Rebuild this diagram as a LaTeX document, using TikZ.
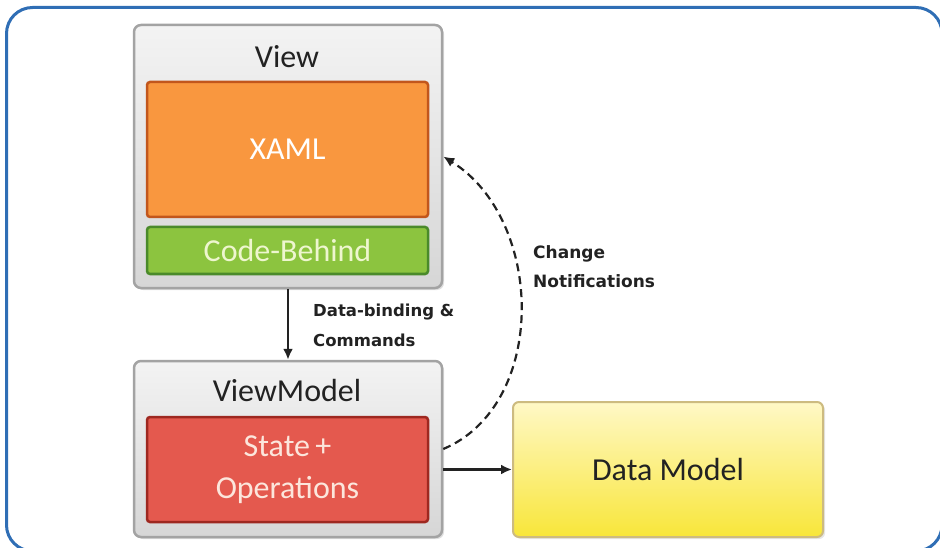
\documentclass[tikz,border=0pt]{standalone}
\usepackage{fontspec}
\setmainfont{Carlito}
\newfontfamily\lblfont{DejaVu Sans}
\usetikzlibrary{arrows.meta,shadows}
\definecolor{frameblue}{HTML}{2F6EB5}
\definecolor{grayborder}{HTML}{A3A3A3}
\definecolor{graytop}{HTML}{F3F3F3}
\definecolor{graybot}{HTML}{D6D6D6}
\definecolor{orangefill}{HTML}{F9973F}
\definecolor{orangeborder}{HTML}{C2561C}
\definecolor{greenfill}{HTML}{8CC43F}
\definecolor{greenborder}{HTML}{4A8A2A}
\definecolor{greentext}{HTML}{EEF6CF}
\definecolor{redfill}{HTML}{E4594E}
\definecolor{redborder}{HTML}{9E2820}
\definecolor{redtext}{HTML}{FCE6DC}
\definecolor{yellowtop}{HTML}{FFF8C6}
\definecolor{yellowbot}{HTML}{F8E63A}
\definecolor{yellowborder}{HTML}{CDBB80}
\definecolor{textdark}{HTML}{222222}
\tikzset{
  graybox/.style={draw=grayborder, line width=2.5pt, rounded corners=7pt,
    top color=graytop, bottom color=graybot, inner sep=0pt,
    drop shadow={shadow xshift=2pt, shadow yshift=-2pt, opacity=0.25}},
  innerbox/.style={line width=2.5pt, rounded corners=3pt, inner sep=0pt,
    font=\fontsize{32}{38}\selectfont, align=center},
  title/.style={font=\fontsize{32}{38}\selectfont, text=textdark, inner sep=0pt},
  smalllbl/.style={font=\lblfont\bfseries\fontsize{16.5}{30}\selectfont, text=textdark,
    align=left, anchor=west, inner sep=0pt},
  conn/.style={line width=2.2pt, draw=textdark},
  tip/.style={-{Latex[length=11pt,width=10pt]}}
}
\begin{document}
\begin{tikzpicture}[x=1pt,y=-1pt]
\useasboundingbox (0,0) rectangle (940,548);
\draw[frameblue, line width=3pt, rounded corners=26pt] (6.5,7.5) rectangle (942,551);

\node[graybox, minimum width=308pt, minimum height=263pt] (view) at (288,156.5) {};
\node[title] (viewlbl) at (287,57) {View};
\node[innerbox, draw=orangeborder, fill=orangefill, text=white,
  minimum width=281pt, minimum height=135pt] (xaml) at (287.5,149.5) {XAML};
\node[innerbox, draw=greenborder, fill=greenfill, text=greentext,
  minimum width=281pt, minimum height=47pt] (code) at (287.5,250.5) {Code-Behind};

\node[graybox, minimum width=308pt, minimum height=176pt] (vm) at (288,449) {};
\node[title] (vmlbl) at (287,390) {ViewModel};
\node[innerbox, draw=redborder, fill=redfill, text=redtext,
  minimum width=281pt, minimum height=105pt, font=\fontsize{32}{42}\selectfont] (state) at (287.5,469.5) {State\,+\\Operations};

\node[draw=yellowborder, line width=2pt, rounded corners=6pt, top color=yellowtop, bottom color=yellowbot,
  minimum width=310pt, minimum height=135pt, inner sep=0pt, text=textdark,
  font=\fontsize{32}{38}\selectfont,
  drop shadow={shadow xshift=2pt, shadow yshift=-2pt, opacity=0.2}] (dm) at (668,469.5) {Data Model};

\draw[conn, tip] (view.south) -- (vm.north);
\node[smalllbl] (dblbl) at (313,325) {Data-binding \&\\Commands};

\draw[conn, tip] (vm.east |- dm.west) -- (dm.west);

\draw[conn, tip, dash pattern=on 8pt off 5pt] (vm.east) .. controls (548,405) and (545,220) .. (view.east);
\node[smalllbl, font=\lblfont\bfseries\fontsize{17}{29}\selectfont] (cnlbl) at (533,267) {Change\\Notifications};
\end{tikzpicture}
\end{document}
